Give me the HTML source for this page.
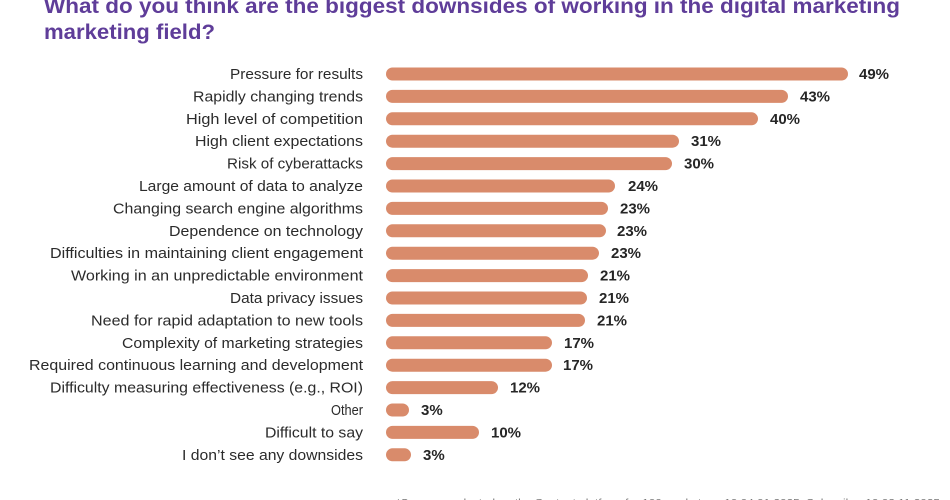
<!DOCTYPE html>
<html>
<head>
<meta charset="utf-8">
<style>
  html, body { margin: 0; padding: 0; background: #ffffff; }
  body { width: 950px; height: 500px; overflow: hidden; }
  svg { display: block; }
  .t { font-family: "Liberation Sans", sans-serif; font-weight: bold; fill: #5f3d99; font-size: 21.5px; }
  .l { font-family: "Liberation Sans", sans-serif; fill: #2b2b2b; font-size: 15px; }
  .p { font-family: "Liberation Sans", sans-serif; font-weight: bold; fill: #262626; font-size: 15px; }
  .f { font-family: "Liberation Sans", sans-serif; fill: #777; font-size: 10px; }
</style>
</head>
<body>
<svg width="950" height="500" viewBox="0 0 950 500" xmlns="http://www.w3.org/2000/svg">
  <rect x="0" y="0" width="950" height="500" fill="#ffffff"/>
  <text class="t" x="44" y="13" textLength="856" lengthAdjust="spacingAndGlyphs">What do you think are the biggest downsides of working in the digital marketing</text>
  <text class="t" x="44" y="39" textLength="171" lengthAdjust="spacingAndGlyphs">marketing field?</text>

  <g fill="#d98b6b">
    <rect x="386" y="67.5" width="462" height="13" rx="6.5"/>
    <rect x="386" y="89.9" width="402" height="13" rx="6.5"/>
    <rect x="386" y="112.3" width="372" height="13" rx="6.5"/>
    <rect x="386" y="134.7" width="293" height="13" rx="6.5"/>
    <rect x="386" y="157.1" width="286" height="13" rx="6.5"/>
    <rect x="386" y="179.5" width="229" height="13" rx="6.5"/>
    <rect x="386" y="201.9" width="222" height="13" rx="6.5"/>
    <rect x="386" y="224.3" width="220" height="13" rx="6.5"/>
    <rect x="386" y="246.7" width="213" height="13" rx="6.5"/>
    <rect x="386" y="269.1" width="202" height="13" rx="6.5"/>
    <rect x="386" y="291.5" width="201" height="13" rx="6.5"/>
    <rect x="386" y="313.9" width="199" height="13" rx="6.5"/>
    <rect x="386" y="336.3" width="166" height="13" rx="6.5"/>
    <rect x="386" y="358.7" width="166" height="13" rx="6.5"/>
    <rect x="386" y="381.1" width="112" height="13" rx="6.5"/>
    <rect x="386" y="403.5" width="23" height="13" rx="6.5"/>
    <rect x="386" y="425.9" width="93" height="13" rx="6.5"/>
    <rect x="386" y="448.3" width="25" height="13" rx="6.5"/>
  </g>

  <g>
    <text class="l" x="230" y="79" textLength="133" lengthAdjust="spacingAndGlyphs">Pressure for results</text>
    <text class="l" x="193" y="101.4" textLength="170" lengthAdjust="spacingAndGlyphs">Rapidly changing trends</text>
    <text class="l" x="186" y="123.8" textLength="177" lengthAdjust="spacingAndGlyphs">High level of competition</text>
    <text class="l" x="195" y="146.2" textLength="168" lengthAdjust="spacingAndGlyphs">High client expectations</text>
    <text class="l" x="227" y="168.6" textLength="136" lengthAdjust="spacingAndGlyphs">Risk of cyberattacks</text>
    <text class="l" x="139" y="191" textLength="224" lengthAdjust="spacingAndGlyphs">Large amount of data to analyze</text>
    <text class="l" x="113" y="213.4" textLength="250" lengthAdjust="spacingAndGlyphs">Changing search engine algorithms</text>
    <text class="l" x="169" y="235.8" textLength="194" lengthAdjust="spacingAndGlyphs">Dependence on technology</text>
    <text class="l" x="50" y="258.2" textLength="313" lengthAdjust="spacingAndGlyphs">Difficulties in maintaining client engagement</text>
    <text class="l" x="71" y="280.6" textLength="292" lengthAdjust="spacingAndGlyphs">Working in an unpredictable environment</text>
    <text class="l" x="230" y="303" textLength="133" lengthAdjust="spacingAndGlyphs">Data privacy issues</text>
    <text class="l" x="91" y="325.4" textLength="272" lengthAdjust="spacingAndGlyphs">Need for rapid adaptation to new tools</text>
    <text class="l" x="122" y="347.8" textLength="241" lengthAdjust="spacingAndGlyphs">Complexity of marketing strategies</text>
    <text class="l" x="29" y="370.2" textLength="334" lengthAdjust="spacingAndGlyphs">Required continuous learning and development</text>
    <text class="l" x="50" y="392.6" textLength="313" lengthAdjust="spacingAndGlyphs">Difficulty measuring effectiveness (e.g., ROI)</text>
    <text class="l" x="331" y="415" textLength="32" lengthAdjust="spacingAndGlyphs">Other</text>
    <text class="l" x="265" y="437.4" textLength="98" lengthAdjust="spacingAndGlyphs">Difficult to say</text>
    <text class="l" x="182" y="459.8" textLength="181" lengthAdjust="spacingAndGlyphs">I don’t see any downsides</text>
  </g>

  <g>
    <text class="p" x="859" y="79">49%</text>
    <text class="p" x="800" y="101.4">43%</text>
    <text class="p" x="770" y="123.8">40%</text>
    <text class="p" x="691" y="146.2">31%</text>
    <text class="p" x="684" y="168.6">30%</text>
    <text class="p" x="628" y="191">24%</text>
    <text class="p" x="620" y="213.4">23%</text>
    <text class="p" x="617" y="235.8">23%</text>
    <text class="p" x="611" y="258.2">23%</text>
    <text class="p" x="600" y="280.6">21%</text>
    <text class="p" x="599" y="303">21%</text>
    <text class="p" x="597" y="325.4">21%</text>
    <text class="p" x="564" y="347.8">17%</text>
    <text class="p" x="563" y="370.2">17%</text>
    <text class="p" x="510" y="392.6">12%</text>
    <text class="p" x="421" y="415">3%</text>
    <text class="p" x="491" y="437.4">10%</text>
    <text class="p" x="423" y="459.8">3%</text>
  </g>

  <text class="f" x="396" y="506" textLength="544" lengthAdjust="spacingAndGlyphs">*Survey conducted on the Content platform for 100 marketers, 10.04.01.2025. Subscribe: 10.03.11.2025</text>
</svg>
</body>
</html>
